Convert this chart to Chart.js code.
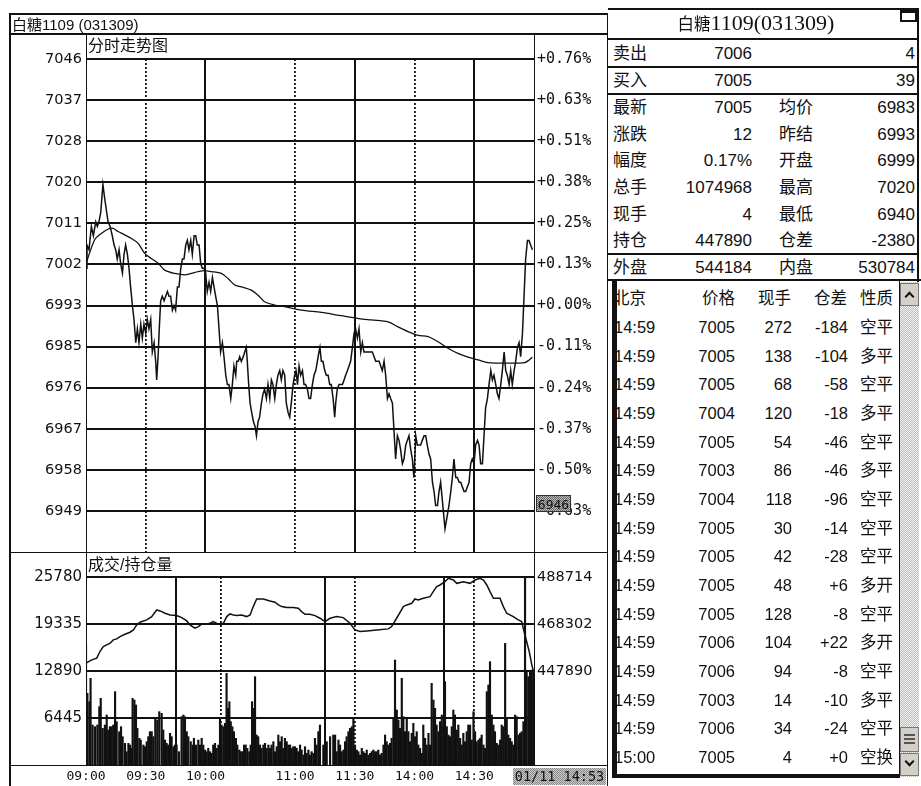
<!DOCTYPE html>
<html>
<head>
<meta charset="utf-8">
<title>白糖1109 分时走势图</title>
<script src="https://cdn.jsdelivr.net/npm/chart.js@4.4.0/dist/chart.umd.min.js"></script>
<style>
  body { margin: 0; background: #fff; }
  #page { position: relative; width: 921px; height: 786px; overflow: hidden; background: #fff; color: #111; }
  .ln { position: absolute; background: #111; }
  .txt { position: absolute; white-space: nowrap; }
  canvas { position: absolute; }
</style>
</head>
<body>
<div id="page">
  <canvas id="priceChart" width="598" height="532" style="left:9px;top:34px"></canvas>
  <canvas id="volChart" width="598" height="234" style="left:9px;top:552px"></canvas>
</div>
<script>
// time axis: minutes of trading since 09:00 (09:00-10:15, 10:30-11:30, 13:30-15:00)
const timeTicks = [0, 30, 60, 105, 135, 165, 195];
const timeLabels = ['09:00', '09:30', '10:00', '11:00', '11:30', '14:00', '14:30'];
const solidTimes = [60, 135, 195];
const dottedTimes = [30, 105, 165];

// price panel
const priceMax = 7046;
const priceMin = 6940;
const priceLabels = ['7046', '7037', '7028', '7020', '7011', '7002', '6993', '6985', '6976', '6967', '6958', '6949'];
const pctLabels = ['+0.76%', '+0.63%', '+0.51%', '+0.38%', '+0.25%', '+0.13%', '+0.00%', '-0.11%', '-0.24%', '-0.37%', '-0.50%', '-0.63%'];

const priceMinutes = [
  0, 0.5, 1.5, 2.7, 3.7, 4.9, 5.7, 6.5, 7.4, 8.5,
  9.4, 10.4, 11.1, 12.1, 13.2, 14.1, 14.9, 15.7, 16.6, 17.4,
  18.3, 19.1, 19.9, 20.8, 21.6, 22.4, 23.3, 24.1, 25.0, 25.8,
  26.6, 27.5, 28.3, 29.1, 30.0, 30.8, 31.6, 32.5, 33.3, 34.2,
  35.0, 35.5, 36.2, 36.8, 37.5, 38.3, 39.2, 40.0, 40.9, 41.7,
  42.5, 43.4, 44.2, 45.0, 45.9, 46.7, 47.6, 48.4, 49.2, 50.1,
  50.9, 51.7, 52.6, 53.4, 54.3, 55.1, 55.9, 56.8, 57.6, 58.4,
  59.3, 60.1, 60.9, 61.8, 62.6, 63.5, 64.3, 65.1, 66.0, 66.8,
  67.6, 68.5, 69.3, 70.2, 71.0, 71.8, 72.7, 73.5, 74.3, 75.2,
  75.7, 76.5, 77.2, 78.0, 79.0, 79.7, 80.5, 81.0, 81.7, 82.4,
  83.2, 84.1, 84.9, 85.6, 86.4, 87.2, 88.1, 88.9, 89.7, 90.6,
  91.4, 92.3, 93.1, 93.9, 94.8, 95.6, 96.4, 97.3, 98.1, 98.9,
  99.8, 100.6, 101.5, 102.3, 103.1, 104.0, 104.8, 105.5, 106.2, 107.0,
  107.8, 108.7, 109.5, 110.3, 111.2, 112.0, 112.8, 113.7, 114.5, 115.4,
  116.2, 117.0, 117.5, 118.2, 119.0, 119.9, 120.7, 121.6, 122.4, 123.2,
  124.1, 124.9, 125.4, 126.2, 127.1, 127.9, 128.8, 129.6, 130.4, 131.3,
  132.1, 132.9, 133.8, 134.6, 135.4, 136.3, 137.1, 138.0, 138.8, 139.6,
  140.5, 141.3, 142.1, 143.0, 143.8, 144.7, 145.5, 146.3, 147.2, 148.0,
  148.8, 149.7, 150.5, 151.4, 152.2, 153.0, 153.9, 154.7, 155.5, 156.4,
  157.2, 158.0, 158.9, 159.7, 160.6, 161.4, 162.2, 163.1, 163.9, 164.7,
  165.6, 166.4, 167.3, 168.1, 168.9, 169.8, 170.6, 171.4, 172.3, 173.1,
  174.0, 174.8, 175.6, 176.5, 177.3, 178.1, 179.0, 180.3, 181.5, 182.3,
  183.2, 184.0, 184.8, 185.7, 186.5, 187.4, 188.2, 189.0, 189.9, 190.7,
  191.5, 192.4, 193.2, 194.0, 194.9, 195.7, 196.6, 197.4, 198.2, 199.1,
  199.9, 200.7, 201.6, 202.4, 203.3, 204.1, 204.9, 205.8, 206.6, 207.4,
  208.3, 209.1, 210.0, 210.8, 211.6, 212.5, 213.3, 214.1, 215.0, 215.8,
  216.7, 217.5, 218.3, 219.2, 220.0, 220.8, 221.7, 222.5, 223.3, 224.2
];
const priceValues = [
  7001, 7006, 7005, 7010, 7008, 7011, 7010, 7011, 7013, 7019,
  7016, 7013, 7011, 7010, 7008, 7006, 7005, 7003, 7005, 7002,
  7000, 7004, 7006, 7004, 7001, 6997, 6993, 6990, 6985, 6988,
  6985, 6989, 6986, 6989, 6987, 6990, 6988, 6990, 6983, 6985,
  6981, 6977, 6982, 6988, 6994, 6995, 6994, 6995, 6996, 6995,
  6995, 6992, 6993, 6992, 6997, 6997, 7001, 7003, 7003, 7006,
  7007, 7005, 7007, 7004, 7008, 7008, 7006, 7006, 7002, 7001,
  7001, 7000, 6996, 6998, 6996, 6999, 6997, 6995, 6993, 6988,
  6983, 6985, 6982, 6978, 6976, 6976, 6973, 6976, 6980, 6978,
  6981, 6981, 6982, 6981, 6982, 6983, 6984, 6981, 6976, 6972,
  6970, 6968, 6967, 6965, 6968, 6969, 6972, 6974, 6975, 6973,
  6976, 6973, 6977, 6976, 6973, 6976, 6978, 6979, 6977, 6979,
  6978, 6972, 6970, 6969, 6972, 6976, 6978, 6979, 6976, 6980,
  6978, 6979, 6976, 6976, 6975, 6973, 6973, 6976, 6978, 6979,
  6981, 6983, 6984, 6981, 6981, 6979, 6978, 6978, 6976, 6976,
  6973, 6969, 6972, 6975, 6976, 6976, 6976, 6977, 6978, 6979,
  6980, 6981, 6984, 6987, 6988, 6986, 6988, 6983, 6985, 6983,
  6983, 6983, 6983, 6983, 6983, 6982, 6981, 6981, 6981, 6980,
  6979, 6981, 6978, 6973, 6974, 6973, 6972, 6966, 6960, 6965,
  6964, 6962, 6959, 6960, 6963, 6964, 6965, 6962, 6960, 6956,
  6965, 6963, 6963, 6963, 6964, 6965, 6965, 6963, 6961, 6960,
  6955, 6953, 6950, 6950, 6953, 6955, 6951, 6945, 6948, 6950,
  6953, 6956, 6960, 6956, 6956, 6955, 6955, 6954, 6953, 6953,
  6954, 6955, 6959, 6960, 6959, 6963, 6964, 6963, 6959, 6959,
  6965, 6971, 6973, 6976, 6979, 6977, 6978, 6976, 6974, 6973,
  6976, 6979, 6983, 6979, 6978, 6976, 6979, 6976, 6979, 6981,
  6984, 6985, 6982, 6987, 6995, 7003, 7007, 7007, 7006, 7005
];

// average price line
const avgMinutes = [0, 4.3, 7.7, 11.0, 13.6, 16.1, 19.4, 22.8, 26.1, 29.5,
  32.8, 36.2, 39.5, 44.5, 49.6, 52.9, 56.3, 59.6, 62.9, 68.0,
  71.3, 74.7, 78.0, 83.0, 86.4, 89.7, 94.8, 101.5, 108.2, 118.2,
  128.2, 137.1, 143.3, 151.7, 156.7, 161.7, 166.8, 171.8, 176.8, 181.8,
  186.8, 191.9, 196.9, 201.9, 206.9, 212.0, 217.0, 220.3, 222.6, 224.2];
const avgValues = [7002, 7007.1, 7008.5, 7009.4, 7009.6, 7008.9, 7008.2, 7007.4, 7006.4, 7004.2,
  7003.1, 7002.1, 7000.6, 6999.9, 6999.6, 6999.9, 7000.3, 7000.5, 7000.3, 6999.9,
  6998.8, 6997.4, 6997.0, 6996.3, 6995.2, 6993.8, 6993.1, 6992.6, 6992.0, 6991.5,
  6990.8, 6990.2, 6989.9, 6989.5, 6988.4, 6987.4, 6986.6, 6986.3, 6985.2, 6983.8,
  6982.7, 6981.9, 6981.3, 6980.7, 6980.6, 6980.6, 6980.6, 6980.7, 6981.3, 6981.9];

// volume / open interest panel
const volMax = 25780;
const volTicks = [25780, 19335, 12890, 6445];
const oiMax = 488714;
const oiMin = 407066;
const oiTicks = [488714, 468302, 447890];

const volMinutes = [
  0.0, 0.7, 1.7, 2.3, 3.3, 4.5, 5.7, 6.7, 7.4, 8.4,
  9.5, 10.4, 11.2, 12.0, 12.9, 13.7, 14.6, 15.4, 16.7, 17.6,
  18.4, 19.6, 20.4, 21.3, 22.1, 22.9, 23.4, 24.3, 25.1, 25.8,
  26.8, 27.5, 28.8, 29.6, 30.5, 31.3, 32.1, 33.0, 33.8, 34.8,
  35.8, 36.8, 38.0, 38.8, 39.7, 40.5, 41.3, 42.2, 43.0, 43.9,
  44.7, 45.5, 46.7, 48.0, 48.9, 49.7, 50.6, 51.4, 52.6, 53.6,
  54.2, 55.2, 56.4, 57.3, 58.1, 58.9, 59.8, 60.6, 61.4, 62.3,
  63.1, 63.9, 64.8, 65.6, 66.5, 67.3, 68.1, 69.0, 69.8, 70.6,
  71.3, 72.0, 72.7, 73.5, 74.3, 75.3, 76.0, 77.0, 77.7, 78.5,
  79.4, 80.2, 81.0, 82.0, 82.7, 83.4, 84.0, 84.9, 85.7, 86.5,
  87.4, 88.2, 89.1, 89.9, 90.7, 91.6, 92.4, 93.2, 94.1, 94.9,
  95.8, 96.6, 97.4, 98.3, 99.1, 99.9, 100.8, 101.6, 102.5, 103.3,
  104.1, 105.0, 105.8, 106.6, 107.5, 108.3, 109.2, 110.0, 110.8, 111.7,
  112.5, 113.3, 114.2, 115.0, 115.8, 116.7, 117.5, 119.2, 120.9, 122.6,
  124.2, 125.1, 125.9, 126.8, 127.6, 128.4, 129.3, 130.1, 130.9, 131.8,
  132.6, 133.5, 134.3, 135.1, 136.0, 136.8, 137.6, 138.5, 139.3, 140.1,
  141.0, 141.8, 142.7, 143.5, 144.3, 145.2, 146.0, 146.8, 147.7, 148.5,
  149.4, 150.2, 151.0, 151.9, 152.7, 153.5, 154.4, 155.2, 156.1, 156.9,
  157.7, 158.6, 159.4, 160.2, 161.1, 161.9, 162.7, 163.6, 164.4, 165.3,
  166.1, 166.9, 167.8, 168.6, 169.4, 170.3, 171.1, 172.0, 172.8, 173.6,
  174.5, 175.3, 176.1, 177.0, 177.8, 178.7, 179.5, 180.3, 181.2, 182.0,
  182.8, 183.7, 184.5, 185.3, 186.2, 187.0, 187.9, 188.7, 189.5, 190.4,
  191.2, 192.0, 192.9, 193.7, 194.6, 195.4, 196.2, 197.1, 197.9, 198.7,
  199.6, 200.4, 201.3, 202.1, 202.9, 203.8, 204.6, 205.4, 206.3, 207.1,
  208.0, 208.8, 209.6, 210.5, 211.3, 212.1, 213.0, 213.8, 214.6, 215.5,
  216.3, 217.2, 218.0, 218.8, 219.7, 220.5, 221.3, 222.2, 223.0, 223.9,
  224.7
];
const volValues = [
  16452, 9826, 8683, 11882, 5484, 5256, 5484, 7998, 9140, 5027,
  5484, 6855, 4799, 5256, 5256, 5484, 10054, 5941, 4570, 5256,
  3885, 2971, 1828, 2971, 2742, 2285, 9140, 8912, 8226, 5027,
  3656, 3428, 2742, 2514, 3199, 3885, 4570, 4570, 3885, 6398,
  6170, 7312, 7084, 4799, 3428, 2971, 2742, 4342, 3885, 2514,
  2742, 2742, 1828, 6627, 6855, 6627, 4570, 3885, 3199, 2742,
  3656, 2742, 3428, 2742, 3656, 2742, 2057, 1828, 2285, 1828,
  1600, 2742, 2971, 2285, 2742, 6398, 5484, 5256, 5713, 12568,
  7769, 8683, 5941, 5256, 4570, 3656, 2742, 2057, 1828, 1828,
  2742, 2742, 2285, 1828, 2742, 8683, 7769, 12110, 4113, 3885,
  2742, 2285, 2742, 2971, 2285, 2742, 2285, 2742, 3199, 1828,
  2514, 4113, 3199, 3885, 2285, 3656, 3199, 2742, 2742, 2285,
  2514, 2514, 2285, 1828, 2742, 2057, 1371, 2514, 1600, 2057,
  1371, 1828, 1600, 3656, 2742, 4570, 5484, 2742, 3199, 3885,
  4113, 4113, 1828, 3428, 2742, 1828, 2057, 3199, 3885, 4570,
  5027, 5256, 6398, 2742, 2057, 1828, 1371, 2285, 1828, 1600,
  2057, 1371, 1600, 1828, 2057, 1828, 1828, 2057, 1371, 1600,
  2742, 4113, 3199, 2742, 2971, 3656, 6398, 14395, 7541, 6170,
  5027, 11882, 6627, 4570, 6398, 4570, 3199, 4342, 5713, 3885,
  4570, 2742, 2285, 1600, 5484, 3656, 2742, 4342, 2742, 11196,
  8912, 7769, 5484, 4570, 5941, 6855, 5256, 11425, 5256, 4113,
  3885, 5256, 7541, 6855, 4799, 5484, 3656, 2742, 4342, 3199,
  4570, 5484, 5484, 3428, 7312, 4570, 3199, 3428, 3656, 4113,
  2742, 2285, 10054, 10968, 14167, 6855, 5484, 4570, 2971, 2742,
  3428, 5484, 5256, 16680, 6398, 4113, 3656, 3199, 2742, 6855,
  6627, 4113, 4342, 4570, 5941, 25780, 12796, 12110, 12796, 13025,
  12796
];

const oiMinutes = [0, 2.9, 5.4, 7.0, 8.7, 10.4, 12.1, 13.7, 15.4, 17.1,
  19.6, 22.1, 23.8, 25.5, 27.1, 30.5, 33.0, 35.5, 37.2, 39.7,
  42.2, 45.5, 48.1, 50.6, 52.2, 54.7, 56.4, 58.1, 59.8, 62.3,
  63.9, 66.5, 69.0, 70.7, 72.3, 74.0, 75.7, 78.2, 80.7, 82.4,
  84.0, 85.7, 89.1, 92.4, 94.9, 96.6, 98.3, 100.8, 104.1, 106.6,
  108.3, 110.0, 112.5, 115.0, 117.5, 120.0, 122.6, 125.9, 129.2, 132.6,
  135.1, 137.6, 141.0, 146.0, 151.8, 153.5, 156.0, 159.4, 161.1, 163.6,
  165.2, 166.9, 169.4, 172.8, 174.4, 176.1, 177.8, 180.3, 182.0, 184.5,
  186.2, 189.5, 192.9, 195.4, 197.9, 199.6, 201.3, 202.9, 204.6, 207.9,
  209.6, 211.3, 214.6, 217.1, 218.8, 219.6, 221.3, 222.6, 223.9, 224.7];
const oiValues = [451296, 452741, 453463, 456353, 458520, 459242, 459964, 461409, 461842, 462854,
  463865, 464732, 465743, 467910, 469066, 470077, 471522, 474411, 473978, 472967,
  472244, 471955, 471088, 469644, 467910, 466465, 467188, 468199, 468199, 468632,
  469355, 468199, 468632, 471522, 472678, 472244, 471955, 472244, 471522, 472244,
  475856, 479179, 479179, 478312, 477734, 476578, 475856, 475422, 475422, 475134,
  473689, 472533, 472533, 471955, 470800, 469355, 470800, 471522, 471088, 468632,
  465743, 465021, 465310, 465743, 466177, 467188, 470800, 475856, 476578, 477300,
  479179, 478745, 479468, 480190, 482357, 484524, 485247, 486692, 488136, 487414,
  485969, 486692, 485969, 487414, 488136, 487414, 485247, 482357, 479468, 479468,
  475856, 472967, 471522, 470077, 469355, 466465, 460686, 456353, 450574, 447890];

// quote panel
const quoteLabels = ['卖出', '买入', '最新', '涨跌', '幅度', '总手', '现手', '持仓', '外盘'];
const quoteValues = ['7006', '7005', '7005', '12', '0.17%', '1074968', '4', '447890', '544184'];
const quoteLabels2 = ['', '', '均价', '昨结', '开盘', '最高', '最低', '仓差', '内盘'];
const quoteValues2 = ['4', '39', '6983', '6993', '6999', '7020', '6940', '-2380', '530784'];

// tick list
const tradeHeader = ['北京', '价格', '现手', '仓差', '性质'];
const tradeTimes = ['14:59', '14:59', '14:59', '14:59', '14:59', '14:59', '14:59', '14:59',
  '14:59', '14:59', '14:59', '14:59', '14:59', '14:59', '14:59', '15:00'];
const tradePrices = ['7005', '7005', '7005', '7004', '7005', '7003', '7004', '7005',
  '7005', '7005', '7005', '7006', '7006', '7003', '7006', '7005'];
const tradeSizes = ['272', '138', '68', '120', '54', '86', '118', '30', '42', '48', '128', '104', '94', '14', '34', '4'];
const tradeDiffs = ['-184', '-104', '-58', '-18', '-46', '-46', '-96', '-14', '-28', '+6', '-8', '+22', '-8', '-10', '-24', '+0'];
const tradeTypes = ['空平', '多平', '空平', '多平', '空平', '多平', '空平', '空平', '空平', '多开', '空平', '多开', '空平', '多平', '空平', '空换'];

const ink = '#111';
const sansMix = '"Liberation Sans", "Noto Sans CJK SC", sans-serif';
const page = document.getElementById('page');

function line(x, y, w, h) {
    const d = document.createElement('div');
    d.className = 'ln';
    d.style.cssText = `left:${x}px;top:${y}px;width:${w}px;height:${h}px;`;
    page.appendChild(d);
    return d;
}

function box(x, y, w, h, style) {
    const d = document.createElement('div');
    d.style.cssText = `position:absolute;left:${x}px;top:${y}px;width:${w}px;height:${h}px;box-sizing:border-box;` + style;
    page.appendChild(d);
    return d;
}

function label(str, x, y, size, align, family) {
    const d = document.createElement('div');
    d.className = 'txt';
    d.textContent = str;
    d.style.left = x + 'px';
    d.style.top = y + 'px';
    d.style.font = size + 'px ' + (family || sansMix);
    d.style.lineHeight = '1';
    const tx = align === 'right' ? '-100%' : align === 'center' ? '-50%' : '0';
    d.style.transform = `translate(${tx}, -50%)`;
    page.appendChild(d);
    return d;
}

// ---------- charts ----------
const gridLine = { color: ink, lineWidth: 2, drawTicks: false };
const priceStep = (priceMax - priceMin) / 12;

// the bottom box of the price chart is a spare 14px strip below the plot,
// it soaks up the label padding so the plot ends exactly on the panel split
function timeScales(showLabels) {
    return {
        x: {
            type: 'linear', min: 0, max: 225, offset: false,
            afterBuildTicks: s => { s.ticks = timeTicks.map(v => ({ value: v })); },
            ticks: {
                display: showLabels, autoSkip: false, maxRotation: 0, padding: 4, color: ink,
                font: { family: 'DejaVu Sans Mono', size: 13 },
                callback: (v, i) => timeLabels[i]
            },
            grid: { ...gridLine, color: c => (c.tick && solidTimes.includes(c.tick.value)) ? ink : 'rgba(0,0,0,0)' },
            border: { display: false },
            afterFit: s => { s.height = showLabels ? 21 : 14; }
        },
        xDot: {
            type: 'linear', position: 'bottom', min: 0, max: 225, offset: false,
            afterBuildTicks: s => { s.ticks = dottedTimes.map(v => ({ value: v })); },
            ticks: { display: false },
            grid: { ...gridLine, lineWidth: 1.8 },
            border: { display: false, dash: [2, 2] },
            afterFit: s => { s.height = 0; }
        }
    };
}

new Chart(document.getElementById('priceChart'), {
    type: 'line',
    data: {
        datasets: [
            {
                data: priceMinutes.map((m, i) => ({ x: m, y: priceValues[i] })),
                borderColor: ink, borderWidth: 1.5, pointRadius: 0, tension: 0
            },
            {
                data: avgMinutes.map((m, i) => ({ x: m, y: avgValues[i] })),
                borderColor: ink, borderWidth: 1.3, pointRadius: 0, tension: 0.3
            }
        ]
    },
    options: {
        responsive: false,
        animation: false,
        events: [],
        layout: { padding: { top: 25, left: 0, right: 0, bottom: 0 }, autoPadding: false },
        plugins: { legend: { display: false }, tooltip: { enabled: false } },
        scales: {
            ...timeScales(false),
            y: {
                position: 'left', min: priceMin, max: priceMax,
                afterBuildTicks: s => { s.ticks = priceLabels.map((_, i) => ({ value: priceMax - i * priceStep })); },
                ticks: { callback: (v, i) => priceLabels[i], color: ink, padding: 4, font: { family: 'DejaVu Sans', size: 14.5 } },
                grid: gridLine,
                border: { display: false },
                afterFit: s => { s.width = 77; }
            },
            y2: {
                position: 'right', min: priceMin, max: priceMax,
                afterBuildTicks: s => { s.ticks = pctLabels.map((_, i) => ({ value: priceMax - i * priceStep })); },
                ticks: { callback: (v, i) => pctLabels[i], color: ink, padding: 3, font: { family: 'DejaVu Sans Mono', size: 15 } },
                grid: { drawOnChartArea: false, drawTicks: false },
                border: { display: false },
                afterFit: s => { s.width = 73; }
            }
        }
    }
});

new Chart(document.getElementById('volChart'), {
    type: 'bar',
    data: {
        datasets: [
            {
                type: 'line',
                data: oiMinutes.map((m, i) => ({ x: m, y: oiValues[i] })),
                yAxisID: 'y2', borderColor: ink, borderWidth: 1.5, pointRadius: 0
            },
            {
                type: 'bar',
                data: volMinutes.map((m, i) => ({ x: m, y: volValues[i] })),
                yAxisID: 'y', backgroundColor: ink, barThickness: 1.5, grouped: false
            }
        ]
    },
    options: {
        responsive: false,
        animation: false,
        events: [],
        layout: { padding: { top: 25, left: 0, right: 0, bottom: 0 }, autoPadding: false },
        plugins: { legend: { display: false }, tooltip: { enabled: false } },
        scales: {
            ...timeScales(true),
            y: {
                position: 'left', min: 0, max: volMax,
                afterBuildTicks: s => { s.ticks = volTicks.map(v => ({ value: v })); },
                ticks: { callback: v => String(v), color: ink, padding: 4, font: { family: 'DejaVu Sans', size: 15 } },
                grid: gridLine,
                border: { display: false },
                afterFit: s => { s.width = 77; }
            },
            y2: {
                position: 'right', min: oiMin, max: oiMax,
                afterBuildTicks: s => { s.ticks = oiTicks.map(v => ({ value: v })); },
                ticks: { callback: v => String(v), color: ink, padding: 3, font: { family: 'DejaVu Sans', size: 14.5 } },
                grid: { drawOnChartArea: false, drawTicks: false },
                border: { display: false },
                afterFit: s => { s.width = 73; }
            }
        }
    }
});

// ---------- left panel frame ----------
line(9, 13, 599, 1.5);
line(9, 13, 1.5, 773);
line(606.5, 13, 1.5, 773);
line(9, 33, 599, 1.5);
line(85.5, 33, 1.5, 732);
line(533.5, 33, 1.5, 732);
line(9, 551.5, 599, 1.5);
line(9, 764.5, 599, 1.5);

label('白糖1109 (031309)', 12, 23.5, 15);
label('分时走势图', 88, 46, 16);
label('成交/持仓量', 88, 565, 16);

const hatch = 'repeating-conic-gradient(#666 0 25%, #bbb 0 50%) 0 0/2px 2px';
box(536, 495, 35, 17, `background:${hatch};border:1px solid #333;`);
label('6946', 553.5, 503.5, 13, 'center', 'DejaVu Sans Mono');
box(513, 768, 93, 17, 'background:repeating-conic-gradient(#888 0 25%, #ccc 0 50%) 0 0/2px 2px;');
label('01/11 14:53', 559.5, 777, 13.5, 'center', 'DejaVu Sans Mono');

// ---------- right panel ----------
line(608, 8, 311, 1.5);
line(917, 8, 1.5, 274);
line(608, 38, 311, 1.5);
line(608, 66, 311, 1.5);
line(608, 93, 311, 1.5);
line(608, 253, 311, 1.5);
line(608, 279, 313, 2);

const title = document.createElement('div');
title.className = 'txt';
title.style.cssText = 'left:756px;top:23px;transform:translate(-50%,-50%);line-height:1;';
title.innerHTML = '<span style="font:16.5px \'Noto Sans CJK SC\'">白糖</span><span style="font:22px \'Liberation Serif\'">1109(031309)</span>';
page.appendChild(title);
box(900, 10, 17, 12, 'border:2px solid #111;border-top-width:3.5px;');

const quoteRowY = [53, 80, 107, 133.5, 160, 187, 213.5, 240, 267];
quoteLabels.forEach((t, i) => {
    const y = quoteRowY[i];
    label(t, 613, y, 17);
    label(quoteValues[i], 752, y, 17, 'right');
    if (quoteLabels2[i]) label(quoteLabels2[i], 779, y, 17);
    label(quoteValues2[i], 915, y, 17, 'right');
});

// tick list
label(tradeHeader[0], 613, 298, 16.5);
label(tradeHeader[1], 735, 298, 16.5, 'right');
label(tradeHeader[2], 791, 298, 16.5, 'right');
label(tradeHeader[3], 847, 298, 16.5, 'right');
label(tradeHeader[4], 860, 298, 16.5);
tradeTimes.forEach((t, i) => {
    const y = 327 + i * 28.66;
    label(t, 614, y, 16.5);
    label(tradePrices[i], 735, y, 16.5, 'right');
    label(tradeSizes[i], 792, y, 16.5, 'right');
    label(tradeDiffs[i], 848, y, 16.5, 'right');
    label(tradeTypes[i], 860, y, 16.5);
});
line(612, 280, 4.5, 498);
line(612, 774, 288, 4);
line(898.5, 280, 1.5, 498);

// scroll bar
box(900, 282, 19, 495, 'background:repeating-conic-gradient(#bdbdbd 0 25%, #f2f2f2 0 50%) 0 0/2px 2px;');
const btn = 'background:#d4d0c8;border:1px solid #777;';
box(900, 283, 19, 23, btn);
box(906, 293, 7, 7, 'border-left:2.5px solid #111;border-top:2.5px solid #111;transform:rotate(45deg);');
box(900, 727, 19, 25, btn);
[734, 738, 742].forEach(y => box(904, y, 11, 1.5, 'background:#555;'));
box(900, 753, 19, 23, btn);
box(906, 758, 7, 7, 'border-right:2.5px solid #111;border-bottom:2.5px solid #111;transform:rotate(45deg);');
</script>
</body>
</html>
